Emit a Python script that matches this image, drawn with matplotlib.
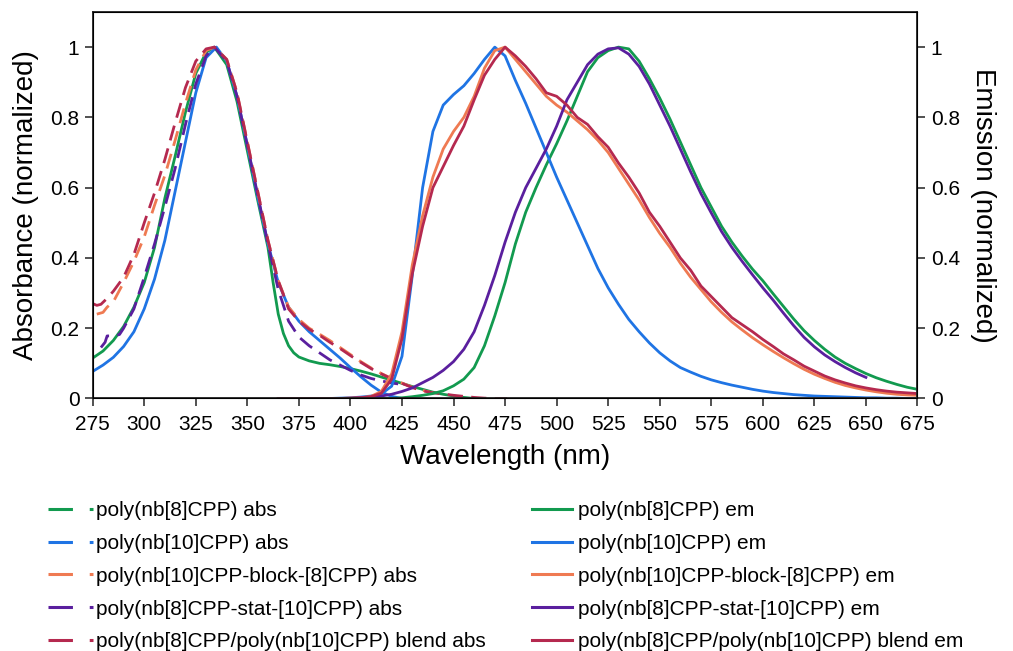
import numpy as np
import matplotlib
matplotlib.use("Agg")
from matplotlib import pyplot as plt
from matplotlib.lines import Line2D
from matplotlib.ticker import FuncFormatter

plt.rcParams['font.family'] = ['Liberation Sans', 'DejaVu Sans']

# colours of the five samples
c_green = '#129a4f'
c_blue = '#1f74e4'
c_orange = '#ef7a52'
c_purple = '#5a1f9e'
c_red = '#b5294f'

names = ['poly(nb[8]CPP)', 'poly(nb[10]CPP)', 'poly(nb[10]CPP-block-[8]CPP)',
         'poly(nb[8]CPP-stat-[10]CPP)', 'poly(nb[8]CPP/poly(nb[10]CPP) blend']

# absorbance (normalized)
green_abs_wl = [275, 280, 285, 290, 295, 300, 305, 310, 315, 320, 325, 330, 334, 340, 345, 350, 355, 360,
                362.5, 365, 367.5, 370, 372.5, 375, 380, 385, 390, 395, 400, 405, 410, 415, 420, 425, 430,
                435, 440, 445, 450, 455, 460]
green_abs = [0.115, 0.135, 0.165, 0.205, 0.26, 0.33, 0.43, 0.57, 0.69, 0.815, 0.925, 0.985, 1.0, 0.95, 0.845,
             0.705, 0.565, 0.43, 0.33, 0.24, 0.185, 0.15, 0.13, 0.118, 0.107, 0.1, 0.096, 0.091, 0.085, 0.078,
             0.07, 0.061, 0.052, 0.043, 0.034, 0.026, 0.018, 0.012, 0.007, 0.003, 0.0]

blue_abs_wl = [275, 280, 285, 290, 295, 300, 305, 310, 315, 320, 325, 330, 335, 340, 345, 350, 355, 360, 365,
               370, 375, 380, 385, 390, 395, 400, 405, 410, 415, 420, 425]
blue_abs = [0.077, 0.095, 0.117, 0.148, 0.19, 0.255, 0.34, 0.45, 0.59, 0.73, 0.87, 0.97, 1.0, 0.96, 0.86, 0.72,
            0.575, 0.44, 0.33, 0.26, 0.22, 0.19, 0.165, 0.14, 0.115, 0.088, 0.062, 0.038, 0.018, 0.006, 0.0]

orange_abs_wl = [277, 280, 282, 285, 290, 295, 300, 305, 310, 315, 320, 325, 330, 334, 340, 345, 350, 355, 360,
                 365, 370, 375, 380, 385, 390, 395, 400, 405, 410, 415, 420, 425, 430, 435, 440]
orange_abs = [0.24, 0.245, 0.26, 0.275, 0.33, 0.39, 0.46, 0.55, 0.635, 0.735, 0.84, 0.935, 0.99, 1.0, 0.965,
              0.87, 0.73, 0.59, 0.45, 0.335, 0.26, 0.225, 0.2, 0.183, 0.165, 0.145, 0.125, 0.105, 0.087, 0.071,
              0.057, 0.044, 0.032, 0.023, 0.016]

purple_abs_wl = [279, 281, 282, 285, 288, 290, 295, 300, 305, 310, 315, 320, 325, 330, 334, 340, 345, 350, 355,
                 360, 365, 370, 375, 380, 385, 390, 395, 400, 405, 410, 415, 420, 425]
purple_abs = [0.145, 0.16, 0.178, 0.178, 0.182, 0.2, 0.255, 0.345, 0.44, 0.545, 0.655, 0.78, 0.895, 0.975, 1.0,
              0.96, 0.86, 0.72, 0.58, 0.44, 0.31, 0.22, 0.175, 0.15, 0.13, 0.11, 0.095, 0.08, 0.067, 0.057, 0.05,
              0.044, 0.04]

red_abs_wl = [275, 277, 279, 282, 285, 290, 295, 300, 305, 310, 315, 320, 325, 330, 334, 340, 345, 350, 355, 360,
              365, 370, 375, 380, 385, 390, 395, 400, 405, 410, 415, 420, 425, 430, 435, 440, 445, 450, 455, 460,
              465, 470, 476]
red_abs = [0.27, 0.265, 0.268, 0.285, 0.305, 0.345, 0.41, 0.5, 0.585, 0.68, 0.785, 0.885, 0.96, 0.995, 1.0, 0.965,
           0.87, 0.73, 0.59, 0.45, 0.335, 0.255, 0.22, 0.197, 0.18, 0.16, 0.142, 0.122, 0.103, 0.085, 0.07, 0.056,
           0.043, 0.031, 0.022, 0.016, 0.013, 0.009, 0.006, 0.003, 0.001, 0.0, 0.0]

# emission (normalized), 365-675 nm every 5 nm
em_wl = list(range(365, 680, 5))
green_em = [0, 0, 0, 0, 0, 0, 0, 0, 0, 0, 0, 0.0, 0.002, 0.005, 0.009, 0.014, 0.022, 0.036, 0.055, 0.088,
            0.15, 0.235, 0.33, 0.44, 0.53, 0.6, 0.665, 0.725, 0.79, 0.86, 0.93, 0.97, 0.99, 1.0, 0.995, 0.96,
            0.91, 0.855, 0.795, 0.73, 0.665, 0.6, 0.545, 0.49, 0.445, 0.405, 0.368, 0.335, 0.298, 0.262, 0.226,
            0.193, 0.165, 0.14, 0.118, 0.1, 0.085, 0.071, 0.059, 0.049, 0.04, 0.032, 0.026]
blue_em = [0, 0, 0, 0, 0, 0, 0.001, 0.002, 0.004, 0.007, 0.013, 0.035, 0.12, 0.35, 0.6, 0.76, 0.835, 0.865, 0.89,
           0.925, 0.965, 1.0, 0.975, 0.905, 0.84, 0.77, 0.7, 0.63, 0.565, 0.5, 0.435, 0.37, 0.315, 0.268, 0.225,
           0.19, 0.158, 0.13, 0.107, 0.088, 0.075, 0.063, 0.053, 0.045, 0.038, 0.032, 0.026, 0.021, 0.017, 0.014,
           0.011, 0.009, 0.007, 0.006, 0.005, 0.004, 0.003, 0.002, 0.002, 0.001, 0.001, 0.0, 0.0]
orange_em = [0, 0, 0, 0, 0, 0, 0, 0.001, 0.002, 0.006, 0.02, 0.07, 0.19, 0.38, 0.52, 0.63, 0.71, 0.76, 0.8, 0.86,
             0.94, 0.99, 1.0, 0.965, 0.93, 0.895, 0.86, 0.835, 0.815, 0.79, 0.765, 0.735, 0.7, 0.655, 0.61, 0.565,
             0.515, 0.47, 0.43, 0.385, 0.345, 0.31, 0.275, 0.245, 0.218, 0.195, 0.173, 0.153, 0.134, 0.116, 0.099,
             0.083, 0.069, 0.057, 0.046, 0.037, 0.03, 0.024, 0.019, 0.015, 0.012, 0.01, 0.009]
purple_em = [0, 0, 0, 0, 0, 0, 0, 0, 0.002, 0.004, 0.007, 0.012, 0.02, 0.03, 0.045, 0.06, 0.08, 0.105, 0.14, 0.19,
             0.265, 0.35, 0.445, 0.53, 0.6, 0.655, 0.71, 0.775, 0.85, 0.9, 0.95, 0.98, 0.995, 0.998, 0.98, 0.945,
             0.895, 0.835, 0.775, 0.71, 0.645, 0.583, 0.528, 0.475, 0.43, 0.39, 0.352, 0.315, 0.28, 0.243, 0.207,
             0.174, 0.147, 0.124, 0.105, 0.088, 0.073, 0.06, np.nan, np.nan, np.nan, np.nan, np.nan]
red_em = [0, 0, 0, 0, 0, 0, 0, 0.001, 0.002, 0.005, 0.015, 0.055, 0.17, 0.355, 0.49, 0.6, 0.66, 0.72, 0.775, 0.85,
          0.92, 0.965, 1.0, 0.975, 0.945, 0.91, 0.87, 0.86, 0.835, 0.8, 0.78, 0.745, 0.715, 0.67, 0.63, 0.585,
          0.53, 0.49, 0.445, 0.4, 0.365, 0.32, 0.29, 0.26, 0.23, 0.21, 0.19, 0.168, 0.148, 0.127, 0.11, 0.092,
          0.078, 0.064, 0.053, 0.044, 0.036, 0.03, 0.025, 0.021, 0.018, 0.016, 0.014]

colors = [c_green, c_blue, c_orange, c_purple, c_red]
abs_data = [(green_abs_wl, green_abs, '-'), (blue_abs_wl, blue_abs, '-'),
            (orange_abs_wl, orange_abs, '--'), (purple_abs_wl, purple_abs, '--'),
            (red_abs_wl, red_abs, '--')]
em_data = [green_em, blue_em, orange_em, purple_em, red_em]

fig = plt.figure(figsize=(10.13, 6.51), dpi=100)
ax = fig.add_axes([0.0915, 0.3879, 0.8142, 0.5937])
lw = 2.0

for (wl, val, ls), col in zip(abs_data, colors):
    if ls == '--':
        ax.plot(wl, val, color=col, lw=lw, dashes=(5.5, 3))
    else:
        ax.plot(wl, val, color=col, lw=lw)
for val, col in zip(em_data, colors):
    ax.plot(em_wl, val, color=col, lw=lw)

ax.set_xlim(275, 675)
ax.set_ylim(0, 1.1)
ax.set_xticks(np.arange(275, 676, 25))
ax.set_yticks(np.arange(0, 1.01, 0.2))
fmt = FuncFormatter(lambda v, p: '{:g}'.format(round(v, 1)))
ax.yaxis.set_major_formatter(fmt)
ax.tick_params(direction='out', length=6, width=1.2, labelsize=15, color='#333333')
ax.tick_params(axis='x', pad=6)
for sp in ax.spines.values():
    sp.set_linewidth(1.3)
    sp.set_color('#222222')
ax.set_xlabel('Wavelength (nm)', fontsize=20, labelpad=7)
ax.set_ylabel('Absorbance (normalized)', fontsize=20, labelpad=8)

ax2 = ax.twinx()
ax2.set_ylim(0, 1.1)
ax2.set_yticks(np.arange(0, 1.01, 0.2))
ax2.yaxis.set_major_formatter(fmt)
ax2.tick_params(direction='out', length=6, width=1.2, labelsize=15, color='#333333')
ax2.set_ylabel('Emission (normalized)', fontsize=20, rotation=270, labelpad=26)

# legends below the chart
abs_handles = [Line2D([0], [0], color=c, lw=2.2, dashes=(8, 5.5)) for c in colors]
em_handles = [Line2D([0], [0], color=c, lw=2.2) for c in colors]
fig.legend(abs_handles, [n + ' abs' for n in names], loc='upper left',
           bbox_to_anchor=(0.047, 0.230), frameon=False, fontsize=15,
           handlelength=2.2, handletextpad=0.12, labelspacing=0.66,
           borderpad=0, borderaxespad=0)
fig.legend(em_handles, [n + ' em' for n in names], loc='upper left',
           bbox_to_anchor=(0.525, 0.230), frameon=False, fontsize=15,
           handlelength=1.95, handletextpad=0.25, labelspacing=0.66,
           borderpad=0, borderaxespad=0)

fig.savefig('out.png', dpi=100)
